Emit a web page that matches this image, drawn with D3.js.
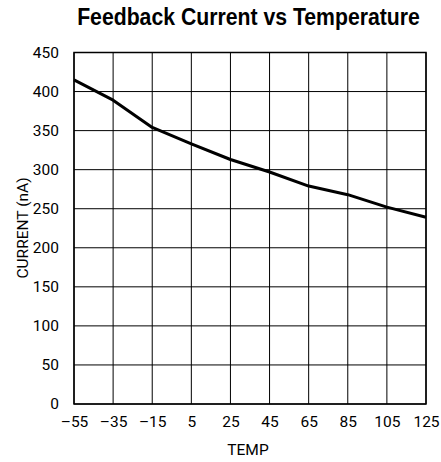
<!DOCTYPE html>
<html><head><meta charset="utf-8">
<script src="https://cdn.jsdelivr.net/npm/d3@7"></script>
<style>body{margin:0;background:#fff}svg{display:block}</style>
</head><body>
<script>
const temps = [-55, -35, -15, 5, 25, 45, 65, 85, 105, 125];
const current = [415, 389, 354, 333, 313, 297, 279, 268, 252, 239];
const xTicks = [-55, -35, -15, 5, 25, 45, 65, 85, 105, 125];
const yTicks = [0, 50, 100, 150, 200, 250, 300, 350, 400, 450];
const title = "Feedback Current vs Temperature";
const xLabel = "TEMP";
const yLabel = "CURRENT (nA)";

const W = 441, H = 462;
const m = {left: 74, right: 15, top: 52.5, bottom: 58};
const svg = d3.select("body").append("svg").attr("width", W).attr("height", H);
const font = "Roboto,'Liberation Sans',Arial,sans-serif";
const titleFont = "'Liberation Sans',Arial,sans-serif";

const x = d3.scaleLinear().domain([-55, 125]).range([m.left, W - m.right]);
const y = d3.scaleLinear().domain([0, 450]).range([H - m.bottom, m.top]);

const g = svg.append("g");
g.selectAll(".vg").data(xTicks).join("line")
  .attr("x1", d => x(d)).attr("x2", d => x(d))
  .attr("y1", y(0)).attr("y2", y(450))
  .attr("stroke", "#000").attr("stroke-width", 1);
g.selectAll(".hg").data(yTicks).join("line")
  .attr("y1", d => y(d)).attr("y2", d => y(d))
  .attr("x1", x(-55)).attr("x2", x(125))
  .attr("stroke", "#000").attr("stroke-width", 1);
g.append("rect").attr("x", x(-55)).attr("y", y(450))
  .attr("width", x(125) - x(-55)).attr("height", y(0) - y(450))
  .attr("fill", "none").attr("stroke", "#000").attr("stroke-width", 1.5);

const xa = svg.append("g").attr("transform", `translate(0,${y(0)})`)
  .call(d3.axisBottom(x).tickValues(xTicks).tickSize(0).tickPadding(12)
    .tickFormat(d => d < 0 ? "\u2013" + Math.abs(d) : d));
const ya = svg.append("g").attr("transform", `translate(${x(-55)},0)`)
  .call(d3.axisLeft(y).tickValues(yTicks).tickSize(0).tickPadding(15));
[xa, ya].forEach(a => {
  a.select(".domain").remove();
  a.selectAll("text").attr("font-family", font).attr("font-size", 15.5).attr("fill", "#000");
});

svg.append("path")
  .datum(temps.map((t, i) => [t, current[i]]))
  .attr("d", d3.line().x(d => x(d[0])).y(d => y(d[1])))
  .attr("fill", "none").attr("stroke", "#000").attr("stroke-width", 3)
  .attr("stroke-linejoin", "round");

const tg = svg.append("g");
const tt = tg.append("text").attr("x", 0).attr("y", 0).attr("text-anchor", "middle")
  .attr("font-family", titleFont).attr("font-weight", "bold").attr("font-size", 24.5)
  .text(title);
const natural = tt.node().getComputedTextLength();
tg.attr("transform", `translate(248.5,25) scale(${343 / natural},1)`);

svg.append("text").attr("x", 248).attr("y", 455).attr("text-anchor", "middle")
  .attr("font-family", font).attr("font-size", 15.5).text(xLabel);
svg.append("text").attr("transform", `translate(27.5,228) rotate(-90)`)
  .attr("text-anchor", "middle").attr("font-family", font).attr("font-size", 15.5).text(yLabel);
</script>
</body></html>
